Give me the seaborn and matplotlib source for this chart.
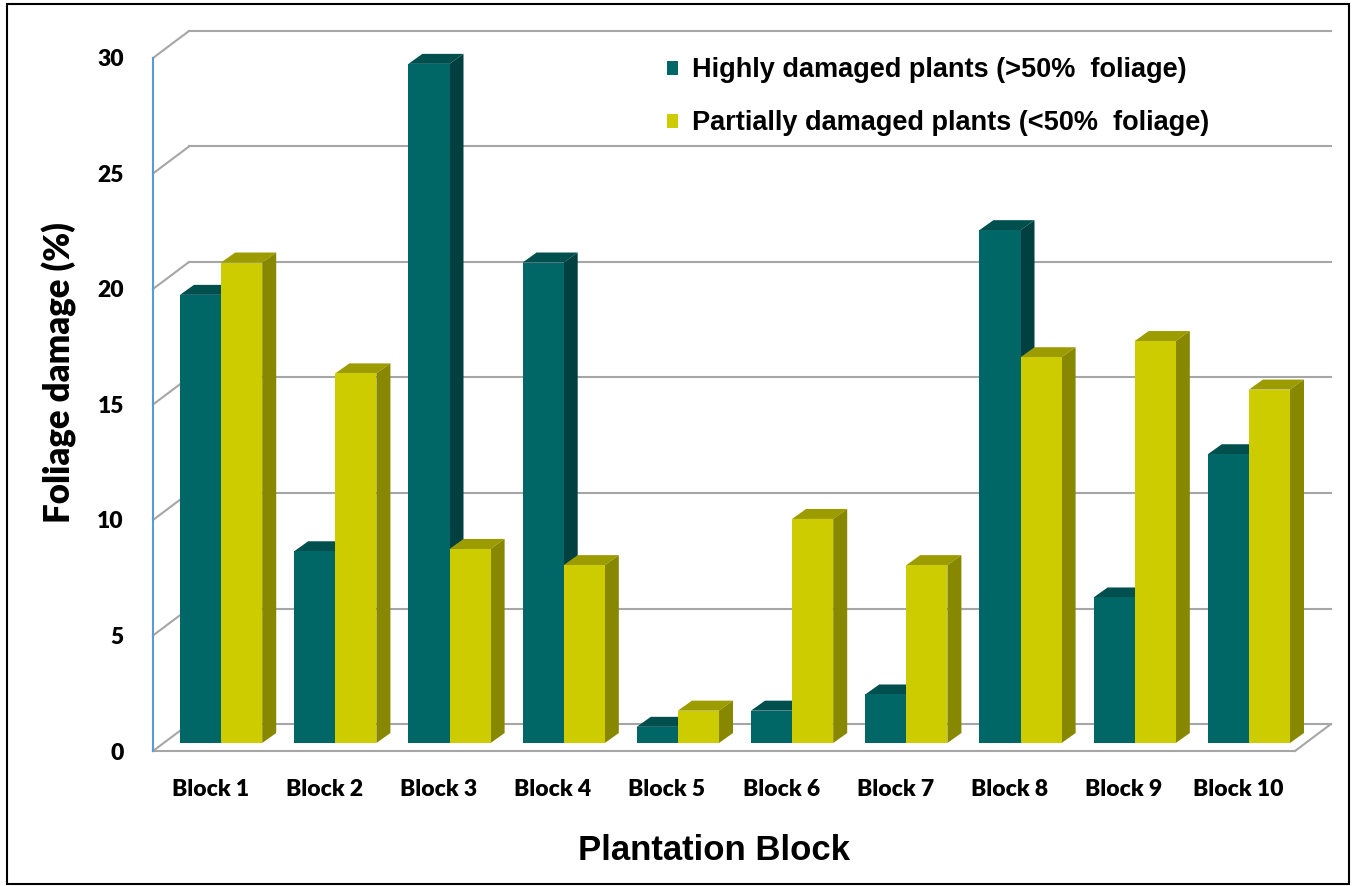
import pandas as pd
import seaborn as sns
import matplotlib.pyplot as plt
from matplotlib.patches import Polygon, Rectangle

blocks = ['Block 1', 'Block 2', 'Block 3', 'Block 4', 'Block 5',
          'Block 6', 'Block 7', 'Block 8', 'Block 9', 'Block 10']
highly = [19.4, 8.3, 29.4, 20.8, 0.7, 1.4, 2.1, 22.2, 6.3, 12.5]
partial = [20.8, 16.0, 8.4, 7.7, 1.4, 9.7, 7.7, 16.7, 17.4, 15.3]
series = ['Highly damaged plants (>50%  foliage)',
          'Partially damaged plants (<50%  foliage)']
yticks = [0, 5, 10, 15, 20, 25, 30]

# front / top / side shades for the fake 3D columns
teal = ['#006666', '#004f4f', '#004040']
yellow = ['#cccc00', '#9c9c00', '#878700']

df = pd.DataFrame({
    'block': blocks * 2,
    'damage': highly + partial,
    'series': [series[0]] * len(blocks) + [series[1]] * len(blocks),
})

W, H = 1354, 886
fig = plt.figure(figsize=(W / 100, H / 100), dpi=100)
ax = fig.add_axes([153 / W, (H - 751) / H, 1142 / W, (751 - 58) / H])

sns.barplot(data=df, x='block', y='damage', hue='series',
            palette=[teal[0], yellow[0]], width=0.72, saturation=1,
            ax=ax, zorder=3)
ax.set_xlim(-0.5, len(blocks) - 0.5)
ax.set_ylim(0, 30)
ax.set_yticks(yticks)

# pixel -> data unit conversion
p0 = ax.transData.transform((0, 0))
p1 = ax.transData.transform((1, 1))
ux = 1 / (p1[0] - p0[0])
uy = 1 / (p1[1] - p0[1])

# full depth of the chart box and position of the bar plane
Dx, Dy = 36 * ux, 27 * uy
ox, oy = 11 * ux, 8 * uy
bx, by = 14 * ux, 10 * uy

grid = dict(color='#a6a6a6', lw=1.5, clip_on=False, zorder=0)
x0, x1 = ax.get_xlim()
for t in yticks:
    ax.plot([x0 + Dx, x1 + Dx], [t + Dy, t + Dy], **grid)
    ax.plot([x0, x0 + Dx], [t, t + Dy], **grid)
ax.plot([x0, x1], [0, 0], **grid)
ax.plot([x1, x1 + Dx], [0, Dy], **grid)
ax.plot([x0, x0], [0, 30], color='#5b9bd5', lw=1.5, clip_on=False, zorder=1)

# draw columns left to right so each one hides the side of its left neighbour
bars = []
for cont, shades in zip(ax.containers, [teal, yellow]):
    for p in cont.patches:
        bars.append((p.get_x(), p, shades))
bars.sort(key=lambda b: b[0])

for i, (_, p, shades) in enumerate(bars):
    z = 3 + i * 0.01
    x, w, h = p.get_x() + ox, p.get_width(), p.get_height()
    p.set_x(x)
    p.set_y(oy)
    p.set_edgecolor('none')
    p.set_zorder(z + 0.005)
    top = oy + h
    ax.add_patch(Polygon([(x, top), (x + w, top), (x + w + bx, top + by), (x + bx, top + by)],
                         closed=True, facecolor=shades[1], edgecolor='none',
                         zorder=z, clip_on=False))
    ax.add_patch(Polygon([(x + w, oy), (x + w + bx, oy + by), (x + w + bx, top + by), (x + w, top)],
                         closed=True, facecolor=shades[2], edgecolor='none',
                         zorder=z, clip_on=False))

for s in ax.spines.values():
    s.set_visible(False)
ax.tick_params(length=0)
ax.tick_params(axis='y', pad=21)
ax.tick_params(axis='x', pad=20)
for lab in ax.get_xticklabels() + ax.get_yticklabels():
    lab.set_family('Lato')
    lab.set_fontweight('heavy')
    lab.set_fontsize(16.5)
ax.set_xlabel('')
ax.set_ylabel('')

fig.text(59 / W, 1 - 373 / H, 'Foliage damage (%)', rotation=90,
         ha='center', va='center', family='Lato', fontweight='heavy', fontsize=25)
fig.text(714 / W, 1 - 850 / H, 'Plantation Block', ha='center', va='center',
         family='Liberation Sans', fontweight='bold', fontsize=25)

handles, labels = ax.get_legend_handles_labels()
ax.legend(handles, labels, loc='upper left', bbox_to_anchor=(643 / W, 1 - 33 / H),
          bbox_transform=fig.transFigure, frameon=False,
          prop={'family': 'Liberation Sans', 'weight': 'bold', 'size': 19.5},
          handlelength=0.4, handleheight=0.4, handletextpad=0.5, labelspacing=1.0)

fig.patches.append(Rectangle((7 / W, 2 / H), 1342 / W, 880 / H, transform=fig.transFigure,
                             fill=False, edgecolor='black', lw=1.5))

fig.savefig('out.png', dpi=100)
